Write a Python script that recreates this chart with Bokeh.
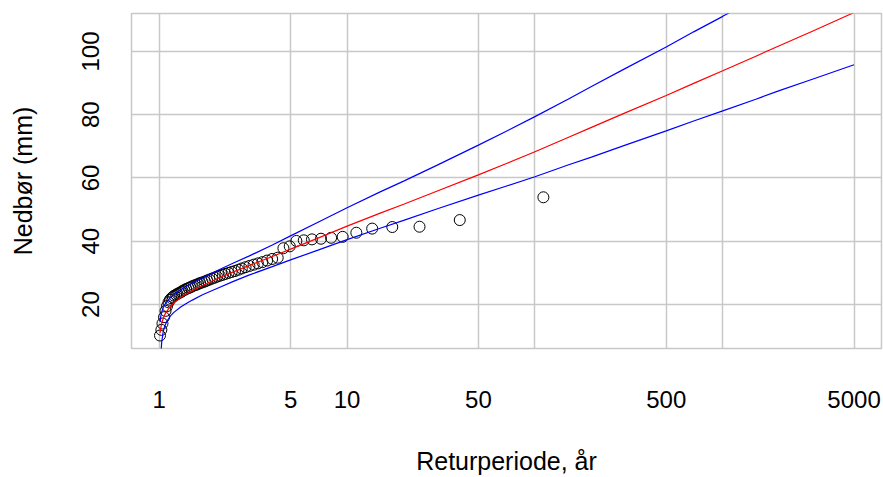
from bokeh.plotting import figure
from bokeh.models import Range1d, FixedTicker, NumeralTickFormatter, ColumnDataSource
from bokeh.embed import file_html
from bokeh.resources import INLINE

# Observed annual maxima: return period (years) and precipitation (mm)
obs_T = [110.9, 39.8, 24.3, 17.4, 13.6, 11.2, 9.47, 8.22, 7.26, 6.50,
         5.88, 5.37, 4.95, 4.58, 4.27, 3.99, 3.75, 3.54, 3.35, 3.18,
         3.02, 2.88, 2.75, 2.64, 2.53, 2.43, 2.34, 2.25, 2.18, 2.10,
         2.03, 1.97, 1.91, 1.85, 1.80, 1.75, 1.70, 1.65, 1.61, 1.57,
         1.53, 1.49, 1.46, 1.43, 1.39, 1.36, 1.33, 1.31, 1.28, 1.25,
         1.23, 1.20, 1.18, 1.16, 1.14, 1.12, 1.10, 1.08, 1.06, 1.04,
         1.026, 1.009]
obs_mm = [53.9, 46.7, 44.6, 44.5, 44.0, 42.7, 41.4, 41.1, 40.8, 40.6,
          40.3, 40.1, 38.4, 37.8, 34.8, 34.4, 33.9, 33.4, 33.0, 32.6,
          32.2, 31.8, 31.4, 31.0, 30.6, 30.3, 30.0, 29.7, 29.4, 29.1,
          28.8, 28.5, 28.2, 27.9, 27.6, 27.3, 27.0, 26.8, 26.5, 26.2,
          26.0, 25.7, 25.4, 25.2, 24.9, 24.6, 24.3, 24.0, 23.7, 23.4,
          23.1, 22.8, 22.4, 22.0, 21.5, 20.7, 19.5, 18.0, 16.0, 14.0,
          12.0, 10.2]

# Fitted curve (red) and confidence band (blue), read at these return periods
fit_T = [1.01, 1.02, 1.03, 1.05, 1.07, 1.1, 1.15, 1.2, 1.3, 1.4, 1.5, 1.7,
         2, 2.5, 3, 4, 5, 7, 10, 15, 20, 30, 50, 70, 100, 150, 200, 300,
         500, 700, 1000, 1500, 2000, 3000, 5000]
fit_mm = [11.0, 12.8, 14.0, 15.6, 16.8, 18.0, 19.5, 20.6, 22.2, 23.4, 24.4, 26.0,
          28.0, 30.4, 32.3, 35.2, 37.5, 41.0, 44.8, 48.9, 51.7, 55.8, 61.0, 64.5,
          68.3, 72.8, 76.0, 80.5, 86.1, 89.9, 93.9, 98.5, 101.8, 106.4, 112.3]
upper_mm = [14.5, 16.5, 17.6, 19.0, 20.0, 21.0, 22.3, 23.3, 24.7, 25.8, 26.8, 28.4,
            30.5, 33.2, 35.3, 38.8, 41.7, 46.0, 50.6, 55.6, 59.0, 64.0, 70.4, 74.7,
            79.4, 84.9, 88.9, 94.5, 101.4, 106.2, 111.1, 116.9, 121.0, 126.8, 134.3]
lower_mm = [-2.0, 4.0, 8.0, 11.5, 13.2, 14.8, 16.5, 17.6, 19.2, 20.4, 21.4, 23.1,
            24.9, 27.4, 29.3, 32.0, 34.1, 37.2, 40.5, 44.1, 46.6, 50.2, 54.6, 57.4,
            60.4, 64.1, 66.6, 70.3, 74.9, 78.0, 81.2, 84.9, 87.6, 91.2, 95.8]

x_label_ticks = [1, 5, 10, 50, 500, 5000]
x_grid_ticks = [1, 5, 10, 50, 100, 500, 1000, 5000]
y_ticks = [20, 40, 60, 80, 100]

GRID = "#c8c8c8"
FONT = "Liberation Sans"

p = figure(width=883, height=477, x_axis_type="log",
           x_range=Range1d(0.7115, 7000), y_range=Range1d(6.1, 112.0),
           output_backend="svg", toolbar_location=None,
           min_border_left=131, min_border_right=2, min_border_top=13,
           min_border_bottom=124)

p.background_fill_color = "white"
p.border_fill_color = "white"
p.outline_line_color = GRID
p.outline_line_width = 1.5

p.xaxis.ticker = FixedTicker(ticks=x_label_ticks)
p.xaxis.formatter = NumeralTickFormatter(format="0")
p.xgrid.ticker = FixedTicker(ticks=x_grid_ticks)
p.yaxis.ticker = FixedTicker(ticks=y_ticks)
p.ygrid.ticker = FixedTicker(ticks=y_ticks)
for g in (p.xgrid, p.ygrid):
    g.grid_line_color = GRID
    g.grid_line_width = 1.5

for ax in (p.xaxis, p.yaxis):
    ax.axis_line_color = None
    ax.major_tick_line_color = None
    ax.minor_tick_line_color = None
    ax.major_tick_out = 0
    ax.major_tick_in = 0
    ax.minor_tick_out = 0
    ax.major_label_text_font = FONT
    ax.major_label_text_font_size = "24px"
    ax.major_label_text_color = "black"
    ax.axis_label_text_font = FONT
    ax.axis_label_text_font_size = "25px"
    ax.axis_label_text_font_style = "normal"
    ax.axis_label_text_color = "black"

p.xaxis.axis_label = "Returperiode, år"
p.yaxis.axis_label = "Nedbør (mm)"
p.xaxis.major_label_standoff = 42
p.xaxis.axis_label_standoff = 36
p.yaxis.major_label_orientation = "vertical"
p.yaxis.major_label_standoff = 32
p.yaxis.axis_label_standoff = 43

src = ColumnDataSource(dict(T=obs_T, mm=obs_mm))
p.scatter("T", "mm", source=src, size=11, marker="circle",
          fill_color=None, line_color="black", line_width=1)

p.line(fit_T, upper_mm, line_color="#0000ff", line_width=1.2)
p.line(fit_T, lower_mm, line_color="#0000ff", line_width=1.2)
p.line(fit_T, fit_mm, line_color="#ff0000", line_width=1.2)

open("out.html", "w").write(file_html(p, INLINE))
